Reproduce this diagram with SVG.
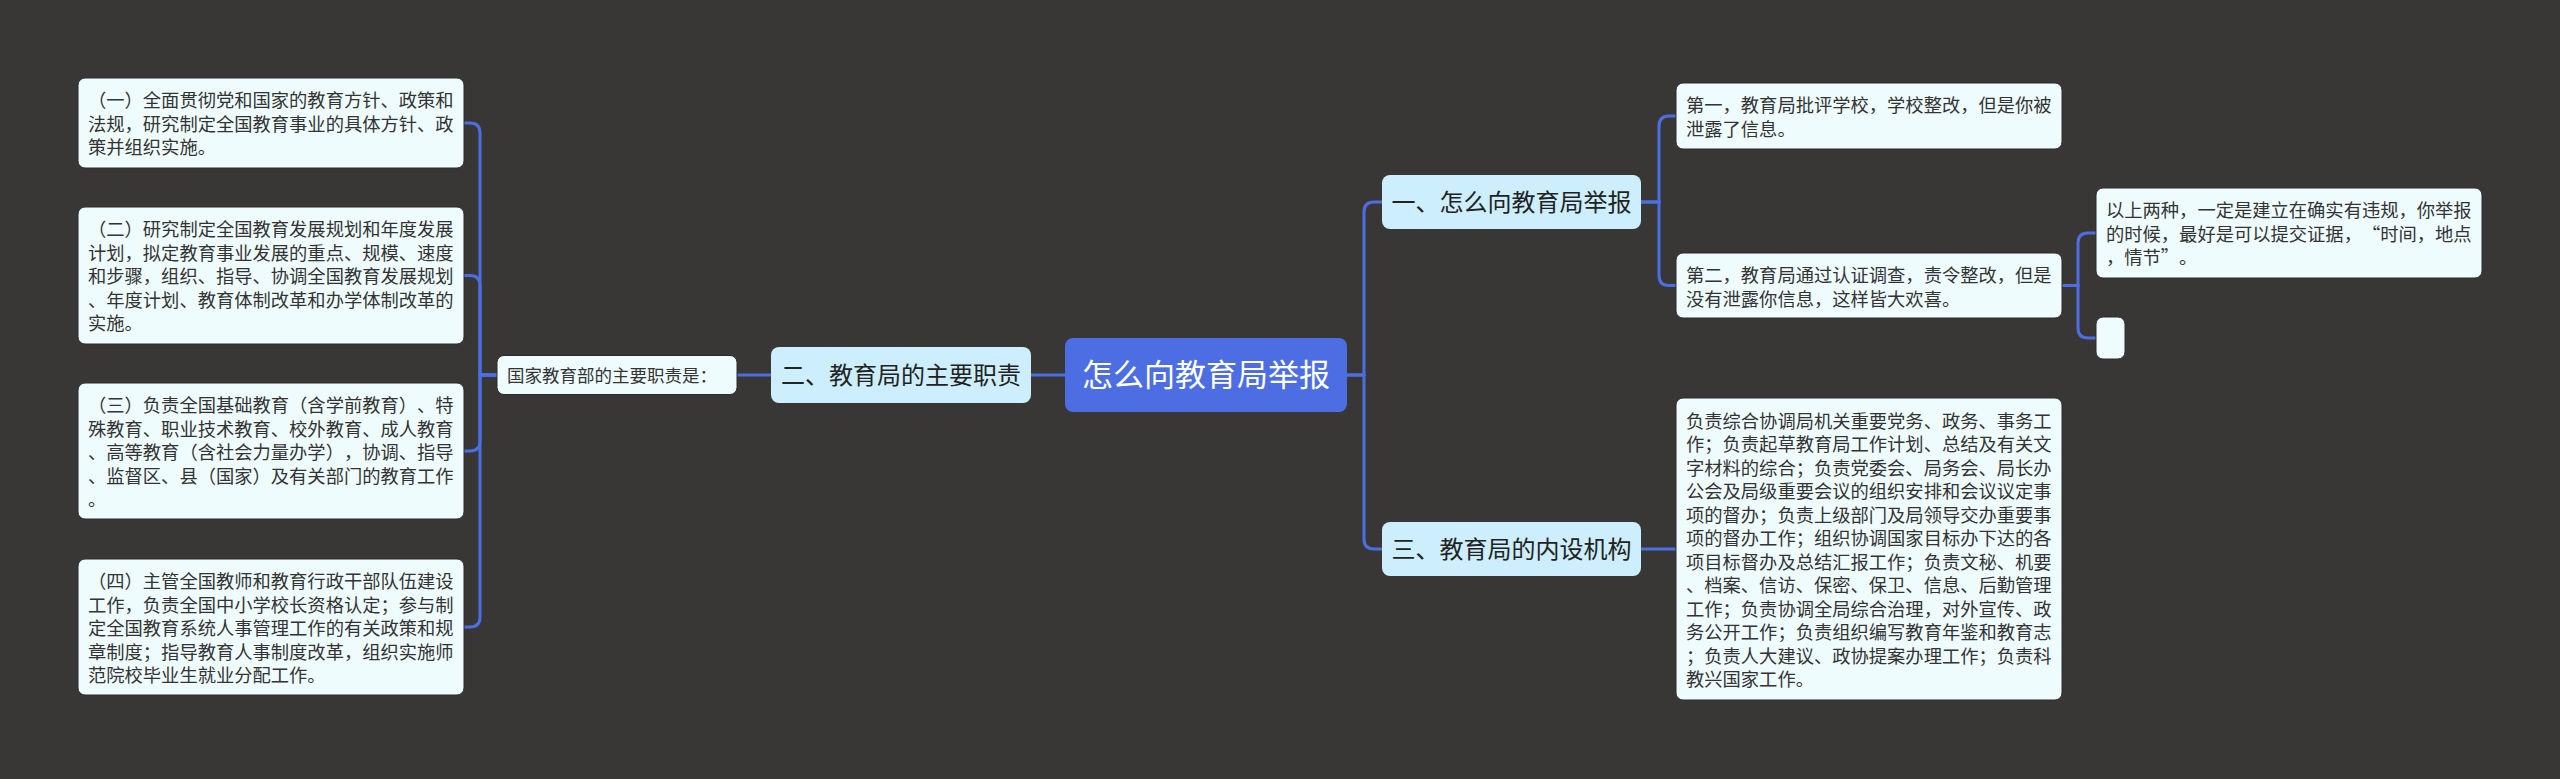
<svg xmlns="http://www.w3.org/2000/svg" width="2560" height="779" viewBox="0 0 2560 779">
<defs>
<style>
.bg{fill:#393636}
.conn path{fill:none;stroke:#4d6ee3;stroke-width:3;stroke-linecap:round}
.root rect{fill:#4d6ee3}
.root text{fill:#ffffff;font-size:31px;text-anchor:middle}
.branch rect{fill:#cdeefd}
.branch text{fill:#222222;font-size:24px;text-anchor:middle}
.leaf rect{fill:#effcfe;stroke:#2c2a2a;stroke-width:1}
.leaf text{fill:#333333;font-size:18.3px}
text{font-family:"Noto Sans CJK SC","Noto Sans",sans-serif;text-spacing-trim:space-all;font-feature-settings:"fwid"}
</style>
</defs>
<rect class="bg" x="0" y="0" width="2560" height="779"/>
<g id="connectors" class="conn">
<path d="M1065,375 H1031"/>
<path d="M771,375 H737"/>
<path d="M497,375 H480 V133 Q480,123 470,123 H464"/>
<path d="M497,375 H480 V285.5 Q480,275.5 470,275.5 H464"/>
<path d="M497,375 H480 V441 Q480,451 470,451 H464"/>
<path d="M497,375 H480 V617 Q480,627 470,627 H464"/>
<path d="M1347,375 H1364 V212 Q1364,202 1374,202 H1382"/>
<path d="M1347,375 H1364 V539 Q1364,549 1374,549 H1382"/>
<path d="M1641,202 H1659 V126 Q1659,116 1669,116 H1676"/>
<path d="M1641,202 H1659 V275.5 Q1659,285.5 1669,285.5 H1676"/>
<path d="M1641,549 H1676"/>
<path d="M2062,285.5 H2078 V243 Q2078,233 2088,233 H2096"/>
<path d="M2062,285.5 H2078 V328 Q2078,338 2088,338 H2096"/>
</g>
<g id="root" class="root">
<rect x="1065" y="338" width="282" height="74" rx="8"/>
<text x="1206" y="386">怎么向教育局举报</text>
</g>
<g id="branch-2" class="branch">
<rect x="771" y="347" width="260" height="56" rx="8"/>
<text x="901" y="383.5">二、教育局的主要职责</text>
</g>
<g id="duty-intro" class="leaf">
<rect x="497" y="355.5" width="240" height="39" rx="7"/>
<text x="507" y="381.5" style="font-size:17.5px">国家教育部的主要职责是：</text>
</g>
<g id="duty-1" class="leaf">
<rect x="78" y="78" width="386" height="90" rx="7"/>
<text x="88" y="107">（一）全面贯彻党和国家的教育方针、政策和</text>
<text x="88" y="130.5">法规，研究制定全国教育事业的具体方针、政</text>
<text x="88" y="154">策并组织实施。</text>
</g>
<g id="duty-2" class="leaf">
<rect x="78" y="207" width="386" height="137" rx="7"/>
<text x="88" y="236">（二）研究制定全国教育发展规划和年度发展</text>
<text x="88" y="259.5">计划，拟定教育事业发展的重点、规模、速度</text>
<text x="88" y="283">和步骤，组织、指导、协调全国教育发展规划</text>
<text x="88" y="306.5">、年度计划、教育体制改革和办学体制改革的</text>
<text x="88" y="330">实施。</text>
</g>
<g id="duty-3" class="leaf">
<rect x="78" y="383" width="386" height="136" rx="7"/>
<text x="88" y="412">（三）负责全国基础教育（含学前教育）、特</text>
<text x="88" y="435.5">殊教育、职业技术教育、校外教育、成人教育</text>
<text x="88" y="459">、高等教育（含社会力量办学），协调、指导</text>
<text x="88" y="482.5">、监督区、县（国家）及有关部门的教育工作</text>
<text x="88" y="506">。</text>
</g>
<g id="duty-4" class="leaf">
<rect x="78" y="559" width="386" height="136" rx="7"/>
<text x="88" y="588">（四）主管全国教师和教育行政干部队伍建设</text>
<text x="88" y="611.5">工作，负责全国中小学校长资格认定；参与制</text>
<text x="88" y="635">定全国教育系统人事管理工作的有关政策和规</text>
<text x="88" y="658.5">章制度；指导教育人事制度改革，组织实施师</text>
<text x="88" y="682">范院校毕业生就业分配工作。</text>
</g>
<g id="branch-1" class="branch">
<rect x="1382" y="175" width="259" height="54" rx="8"/>
<text x="1511.5" y="210.5">一、怎么向教育局举报</text>
</g>
<g id="branch-3" class="branch">
<rect x="1382" y="522" width="259" height="54" rx="8"/>
<text x="1511.5" y="557.5">三、教育局的内设机构</text>
</g>
<g id="report-1" class="leaf">
<rect x="1676" y="83" width="386" height="66" rx="7"/>
<text x="1686" y="112">第一，教育局批评学校，学校整改，但是你被</text>
<text x="1686" y="135.5">泄露了信息。</text>
</g>
<g id="report-2" class="leaf">
<rect x="1676" y="253" width="386" height="65" rx="7"/>
<text x="1686" y="282">第二，教育局通过认证调查，责令整改，但是</text>
<text x="1686" y="305.5">没有泄露你信息，这样皆大欢喜。</text>
</g>
<g id="report-note" class="leaf">
<rect x="2096" y="188" width="386" height="90" rx="7"/>
<text x="2106" y="217">以上两种，一定是建立在确实有违规，你举报</text>
<text x="2106" y="240.5">的时候，最好是可以提交证据，“时间，地点</text>
<text x="2106" y="264">，情节”。</text>
</g>
<g id="report-empty" class="leaf">
<rect x="2096" y="317" width="29" height="42" rx="7"/>
</g>
<g id="structure" class="leaf">
<rect x="1676" y="398" width="386" height="302" rx="7"/>
<text x="1686" y="427.5">负责综合协调局机关重要党务、政务、事务工</text>
<text x="1686" y="451">作；负责起草教育局工作计划、总结及有关文</text>
<text x="1686" y="474.5">字材料的综合；负责党委会、局务会、局长办</text>
<text x="1686" y="498">公会及局级重要会议的组织安排和会议议定事</text>
<text x="1686" y="521.5">项的督办；负责上级部门及局领导交办重要事</text>
<text x="1686" y="545">项的督办工作；组织协调国家目标办下达的各</text>
<text x="1686" y="568.5">项目标督办及总结汇报工作；负责文秘、机要</text>
<text x="1686" y="592">、档案、信访、保密、保卫、信息、后勤管理</text>
<text x="1686" y="615.5">工作；负责协调全局综合治理，对外宣传、政</text>
<text x="1686" y="639">务公开工作；负责组织编写教育年鉴和教育志</text>
<text x="1686" y="662.5">；负责人大建议、政协提案办理工作；负责科</text>
<text x="1686" y="686">教兴国家工作。</text>
</g>
</svg>
